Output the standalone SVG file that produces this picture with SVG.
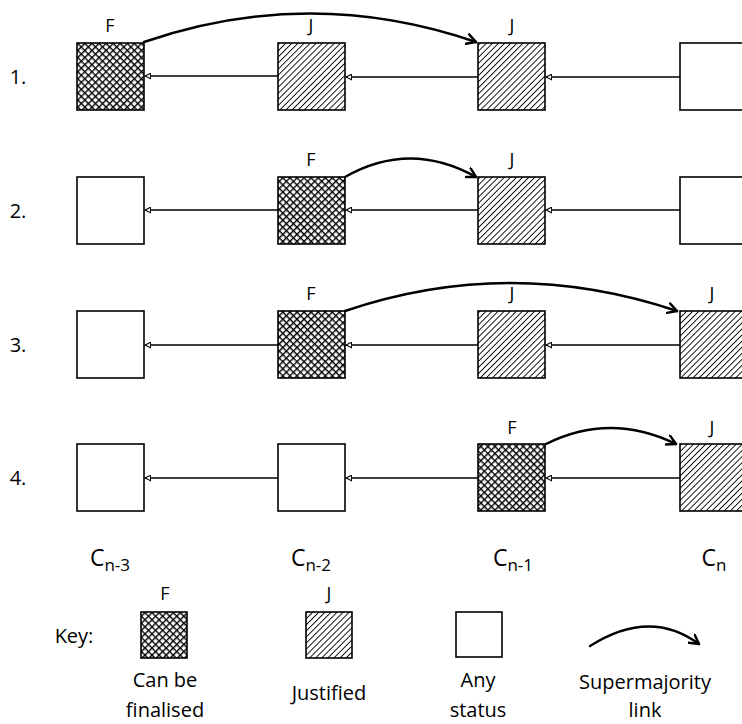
<svg xmlns="http://www.w3.org/2000/svg" width="742" height="724" viewBox="0 0 742 724">
<style>
  .box{stroke:#000;stroke-width:1.6;}
  .empty{fill:#fff;}
  .fin{fill:url(#cross);}
  .jus{fill:url(#hatch);}
  .link{fill:none;stroke:#000;stroke-width:1.3;marker-end:url(#tri);}
  .sup{fill:none;stroke:#000;stroke-width:2.4;stroke-linecap:round;marker-end:url(#open);}
  text{font-family:"Open Sans","Liberation Sans",sans-serif;font-size:20px;fill:#000;text-anchor:middle;}
  .lbl{font-size:18px;}
  .cl{font-size:23px;}
  .sub{font-size:17px;}
</style>
<defs>
  <pattern id="cross" patternUnits="userSpaceOnUse" width="5" height="5" patternTransform="rotate(45)">
    <rect width="5" height="5" fill="#fff"/>
    <line x1="0" y1="0" x2="0" y2="5" stroke="#000" stroke-width="2.8"/>
    <line x1="0" y1="0" x2="5" y2="0" stroke="#000" stroke-width="2.8"/>
  </pattern>
  <pattern id="hatch" patternUnits="userSpaceOnUse" width="4.3" height="4.3" patternTransform="rotate(45)">
    <rect width="4.3" height="4.3" fill="#fff"/>
    <line x1="0" y1="0" x2="0" y2="4.3" stroke="#000" stroke-width="1.8"/>
  </pattern>
  <marker id="tri" viewBox="0 0 10 10" refX="9" refY="5" markerWidth="7" markerHeight="7" orient="auto" markerUnits="userSpaceOnUse">
    <path d="M1,1 L9,5 L1,9 Z" fill="#fff" stroke="#000" stroke-width="1.5"/>
  </marker>
  <marker id="open" viewBox="0 0 12 12" refX="10" refY="6" markerWidth="12" markerHeight="12" orient="auto" markerUnits="userSpaceOnUse">
    <path d="M1,1 L10,6 L1,11" fill="none" stroke="#000" stroke-width="2.4" stroke-linecap="round" stroke-linejoin="round"/>
  </marker>
</defs>

<g id="row-labels">
  <text x="18" y="84">1.</text>
  <text x="18" y="218">2.</text>
  <text x="18" y="352">3.</text>
  <text x="18" y="485">4.</text>
</g>

<!-- Row 1 -->
<g id="r1-c1"><rect class="box fin" x="77" y="43" width="67" height="67"/><text class="lbl" x="110" y="32">F</text></g>
<g id="r1-c2"><rect class="box jus" x="278" y="43" width="67" height="67"/><text class="lbl" x="311" y="32">J</text></g>
<g id="r1-c3"><rect class="box jus" x="478" y="43" width="67" height="67"/><text class="lbl" x="512" y="32">J</text></g>
<g id="r1-c4"><rect class="box empty" x="680" y="43" width="67" height="67"/></g>

<!-- Row 2 -->
<g id="r2-c1"><rect class="box empty" x="77" y="177" width="67" height="67"/></g>
<g id="r2-c2"><rect class="box fin" x="278" y="177" width="67" height="67"/><text class="lbl" x="311" y="166">F</text></g>
<g id="r2-c3"><rect class="box jus" x="478" y="177" width="67" height="67"/><text class="lbl" x="512" y="166">J</text></g>
<g id="r2-c4"><rect class="box empty" x="680" y="177" width="67" height="67"/></g>

<!-- Row 3 -->
<g id="r3-c1"><rect class="box empty" x="77" y="311" width="67" height="67"/></g>
<g id="r3-c2"><rect class="box fin" x="278" y="311" width="67" height="67"/><text class="lbl" x="311" y="300">F</text></g>
<g id="r3-c3"><rect class="box jus" x="478" y="311" width="67" height="67"/><text class="lbl" x="512" y="300">J</text></g>
<g id="r3-c4"><rect class="box jus" x="680" y="311" width="67" height="67"/><text class="lbl" x="712" y="300">J</text></g>

<!-- Row 4 -->
<g id="r4-c1"><rect class="box empty" x="77" y="444" width="67" height="67"/></g>
<g id="r4-c2"><rect class="box empty" x="278" y="444" width="67" height="67"/></g>
<g id="r4-c3"><rect class="box fin" x="478" y="444" width="67" height="67"/><text class="lbl" x="512" y="434">F</text></g>
<g id="r4-c4"><rect class="box jus" x="680" y="444" width="67" height="67"/><text class="lbl" x="712" y="434">J</text></g>

<g id="connectors">
  <!-- row 1 -->
  <path class="link" d="M278,76 L145,76"/>
  <path class="link" d="M478,77 L346,77"/>
  <path class="link" d="M680,77 L546,77"/>
  <path class="sup" d="M144,42 Q310,-15 476,42"/>
  <!-- row 2 -->
  <path class="link" d="M278,210 L145,210"/>
  <path class="link" d="M478,210 L346,210"/>
  <path class="link" d="M680,210 L546,210"/>
  <path class="sup" d="M345,177 Q410,140 476,177"/>
  <!-- row 3 -->
  <path class="link" d="M278,345 L145,345"/>
  <path class="link" d="M478,345 L346,345"/>
  <path class="link" d="M680,345 L546,345"/>
  <path class="sup" d="M345,311 Q510,255 677,311"/>
  <!-- row 4 -->
  <path class="link" d="M278,478 L145,478"/>
  <path class="link" d="M478,478 L346,478"/>
  <path class="link" d="M680,478 L546,478"/>
  <path class="sup" d="M546,444 Q610,412 676,444"/>
</g>

<g id="chain-labels">
  <text class="cl" x="110" y="566">C<tspan class="sub" dy="5">n-3</tspan></text>
  <text class="cl" x="311" y="566">C<tspan class="sub" dy="5">n-2</tspan></text>
  <text class="cl" x="513" y="566">C<tspan class="sub" dy="5">n-1</tspan></text>
  <text class="cl" x="714" y="566">C<tspan class="sub" dy="5">n</tspan></text>
</g>

<g id="key">
  <text x="74" y="643">Key:</text>
  <g id="key-final">
    <text class="lbl" x="165" y="600">F</text>
    <rect class="box fin" x="141" y="612" width="46" height="46"/>
    <text x="165" y="687">Can be</text>
    <text x="165" y="717">finalised</text>
  </g>
  <g id="key-justified">
    <text class="lbl" x="329" y="600">J</text>
    <rect class="box jus" x="306" y="612" width="46" height="46"/>
    <text x="329" y="700">Justified</text>
  </g>
  <g id="key-any">
    <rect class="box empty" x="456" y="612" width="46" height="45"/>
    <text x="478" y="687">Any</text>
    <text x="478" y="717">status</text>
  </g>
  <g id="key-link">
    <path class="sup" d="M590,646 Q650,608 699,644"/>
    <text x="645" y="689">Supermajority</text>
    <text x="645" y="717">link</text>
  </g>
</g>
</svg>
